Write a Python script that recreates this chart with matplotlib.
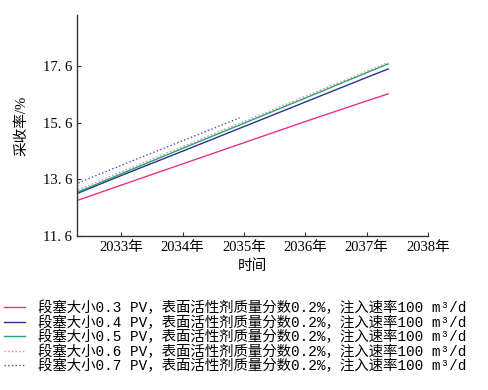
import matplotlib
matplotlib.use('Agg')
import matplotlib.pyplot as plt

plt.rcParams['font.family'] = ['Liberation Serif', 'Noto Sans CJK SC']
plt.rcParams['axes.unicode_minus'] = False

# data
years = [2032.3, 2033, 2034, 2035, 2036, 2037, 2037.35]
rf_03 = [12.87, 13.40, 14.15, 14.90, 15.65, 16.38, 16.63]
rf_04 = [13.12, 13.74, 14.60, 15.47, 16.34, 17.21, 17.51]
rf_05 = [13.16, 13.80, 14.70, 15.59, 16.48, 17.38, 17.69]
rf_06 = [13.23, 13.87, 14.76, 15.65, 16.54, 17.43, 17.74]
years_07 = [2032.3, 2033, 2034, 2034.93]
rf_07 = [13.48, 14.10, 14.97, 15.78]

xticks = [2033, 2034, 2035, 2036, 2037, 2038]
xticklabels = ['2033年', '2034年', '2035年', '2036年', '2037年', '2038年']
yticks = [11.6, 13.6, 15.6, 17.6]
sizes = ['0.3', '0.4', '0.5', '0.6', '0.7']

fig = plt.figure(figsize=(4.89, 3.9), dpi=100)
ax = fig.add_axes([77/489, 1 - 236/390, (428-77)/489, (236-15)/390])

lbl = lambda s: '段塞大小' + s + ' PV，表面活性剂质量分数0.2%，注入速率100 m³/d'
l1, = ax.plot(years, rf_03, color='#e6338a', lw=1.0, label=lbl(sizes[0]))
l2, = ax.plot(years, rf_04, color='#2e3192', lw=1.0, label=lbl(sizes[1]))
l3, = ax.plot(years, rf_05, color='#22a86a', lw=1.0, label=lbl(sizes[2]))
l4, = ax.plot(years, rf_06, color='#ee7fa8', lw=1.0, ls=':', label=lbl(sizes[3]))
l5, = ax.plot(years_07, rf_07, color='#4a4fb0', lw=1.0, ls=':', label=lbl(sizes[4]))

ax.set_xlim(2032.28, 2038)
ax.set_ylim(11.6, 19.42)
ax.set_xticks(xticks)
ax.set_xticklabels(xticklabels, fontsize=10.5)
ax.set_yticks(yticks)
ax.set_yticklabels(['11. 6', '13. 6', '15. 6', '17. 6'], fontsize=10.5)
ax.tick_params(direction='in', length=3, width=0.8, color='#333333')
ax.spines['top'].set_visible(False)
ax.spines['right'].set_visible(False)
for s in ['left', 'bottom']:
    ax.spines[s].set_color('#333333')
    ax.spines[s].set_linewidth(1.0)
ax.set_ylabel('采收率/%', fontsize=10.5, labelpad=10)
ax.set_xlabel('时间', fontsize=10.5, labelpad=4)

leg = fig.legend(handles=[l1, l2, l3, l4, l5], loc='upper left',
                 bbox_to_anchor=(-0.003, 1 - 295/390), frameon=False,
                 prop={'family': ['Liberation Mono', 'Noto Sans CJK SC'], 'size': 10.4},
                 handlelength=1.4, handletextpad=0.9, labelspacing=0.0,
                 borderaxespad=0.0)

fig.savefig('out.png', dpi=100)
